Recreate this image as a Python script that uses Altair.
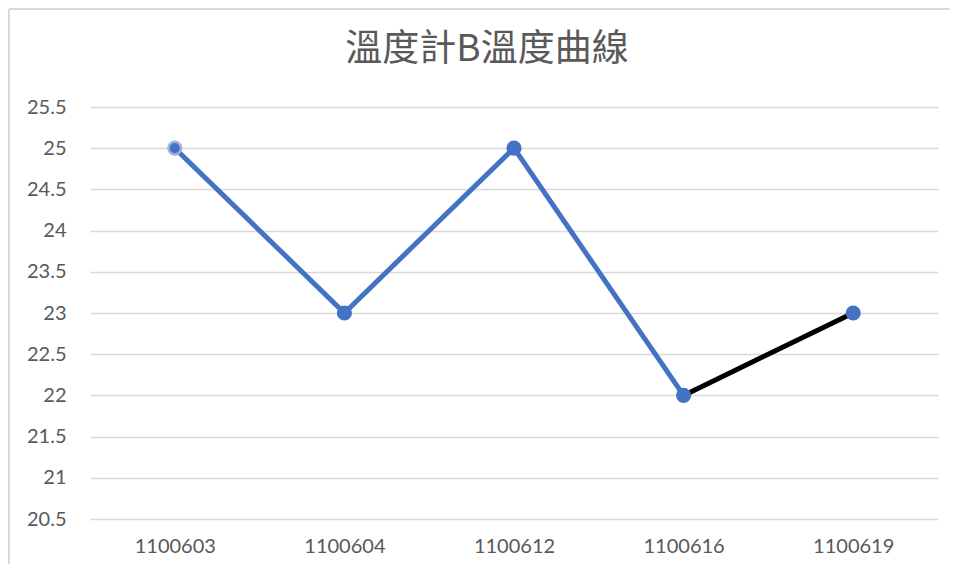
import altair as alt
import pandas as pd

dates = ["1100603", "1100604", "1100612", "1100616", "1100619"]
temps = [25, 23, 25, 22, 23]
seg_names = ["a", "b"]
seg_dates = [dates[0:4], dates[3:5]]
seg_temps = [temps[0:4], temps[3:5]]
y_ticks = [20.5, 21, 21.5, 22, 22.5, 23, 23.5, 24, 24.5, 25, 25.5]
title_text = "溫度計B溫度曲線"

rows = []
for s, ds, ts in zip(seg_names, seg_dates, seg_temps):
    for d, t in zip(ds, ts):
        rows.append({"date": d, "temp": t, "seg": s})
line_df = pd.DataFrame(rows)
pts_df = pd.DataFrame({"date": dates, "temp": temps, "first": [True] + [False] * 4})

FONT = "Lato"
GRAY = "#595959"

x = alt.X("date:N", sort=dates, scale=alt.Scale(type="point", padding=0.5),
          axis=alt.Axis(title=None, labelAngle=0, labelFontSize=20, labelColor=GRAY,
                        labelFont=FONT, domain=False, ticks=False, labelPadding=17,
                        grid=False))
y = alt.Y("temp:Q", scale=alt.Scale(domain=[20.5, 25.5], nice=False, zero=False),
          axis=alt.Axis(title=None, values=y_ticks, labelFontSize=20, labelColor=GRAY,
                        labelFont=FONT, domain=False, ticks=False, labelPadding=24,
                        grid=True, gridColor="#d9d9d9", gridWidth=1.5,
                        labelExpr="datum.value"))

lines = alt.Chart(line_df).mark_line(strokeWidth=5).encode(
    x=x, y=y,
    color=alt.Color("seg:N", scale=alt.Scale(domain=seg_names, range=["#4472C4", "#000000"]),
                    legend=None),
    detail="seg:N",
)

points = alt.Chart(pts_df).mark_point(filled=True, size=160, opacity=1).encode(
    x=x, y=y,
    color=alt.value("#4472C4"),
    stroke=alt.condition("datum.first", alt.value("#9DB4E0"), alt.value("#4472C4")),
    strokeWidth=alt.value(2.5),
)

left_border = alt.Chart(pts_df).mark_rule(color="#d9d9d9", strokeWidth=2).encode(
    x=alt.value(-81), y=alt.value(-98), y2=alt.value(475))
top_border = alt.Chart(pts_df).mark_rule(color="#d9d9d9", strokeWidth=2).encode(
    x=alt.value(-81), x2=alt.value(875), y=alt.value(-98))

title = alt.Chart(pd.DataFrame({"t": [title_text]})).mark_text(
    font="Noto Sans CJK TC", fontSize=37, color=GRAY, align="center", baseline="middle"
).encode(x=alt.value(397), y=alt.value(-57), text="t:N")

chart = alt.layer(left_border, top_border, lines, points, title).properties(
    width=848, height=412,
    autosize=alt.AutoSizeParams(type="none"),
    padding={"left": 82, "top": 99, "right": 12, "bottom": 45},
    background="white",
).configure_view(strokeWidth=0, stroke=None)

chart.save("out.html", embed_options={"renderer": "svg", "actions": False})
